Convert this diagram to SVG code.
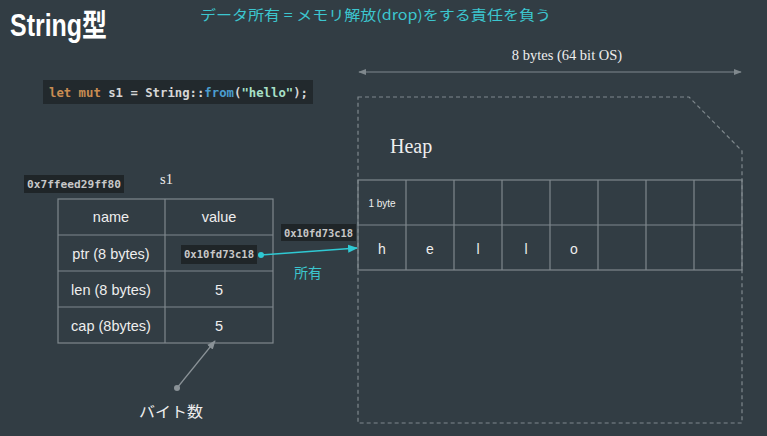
<svg xmlns="http://www.w3.org/2000/svg" width="767" height="436" viewBox="0 0 767 436">
<style>
.bg{fill:#323d44}
.cell{fill:none;stroke:#7f888d;stroke-width:1.2}
.sans{font-family:"Liberation Sans","Noto Sans CJK JP",sans-serif;fill:#eeeeee}
.serif{font-family:"Liberation Serif","Noto Sans CJK JP",serif;fill:#eeeeee}
.mono{font-family:"DejaVu Sans Mono","Liberation Mono",monospace}
.addr{fill:#1f2528}
.addrt{fill:#c8c8c8;font-family:"DejaVu Sans Mono","Liberation Mono",monospace;font-weight:bold}
.cyan{fill:#3cc6cf;font-family:"Noto Sans CJK JP",sans-serif}
</style>
<defs>
<marker id="ag" viewBox="0 0 10 10" refX="9" refY="5" markerWidth="8" markerHeight="8" orient="auto-start-reverse" markerUnits="userSpaceOnUse"><path d="M0,1 L10,5 L0,9 z" fill="#7f888d"/></marker>
<marker id="ac" viewBox="0 0 10 10" refX="9" refY="5" markerWidth="10" markerHeight="10" orient="auto" markerUnits="userSpaceOnUse"><path d="M0,1 L10,5 L0,9 z" fill="#2fc9d3"/></marker>
<marker id="ag2" viewBox="0 0 10 10" refX="9" refY="5" markerWidth="9" markerHeight="9" orient="auto" markerUnits="userSpaceOnUse"><path d="M0,1 L10,5 L0,9 z" fill="#8a9297"/></marker>
</defs>
<rect class="bg" x="0" y="0" width="767" height="436"/>

<g id="title">
<text x="10" y="36" font-family="'Liberation Sans','Noto Sans CJK JP',sans-serif" font-size="31" font-weight="bold" fill="#ffffff" textLength="97" lengthAdjust="spacingAndGlyphs">String型</text>
</g>
<g id="subtitle">
<text class="cyan" x="200" y="20" font-size="14" textLength="351" lengthAdjust="spacingAndGlyphs">データ所有 = メモリ解放(drop)をする責任を負う</text>
</g>

<g id="code">
<rect x="43" y="80" width="270" height="24" fill="#22292d"/>
<text class="mono" x="49" y="97" font-size="12.2" font-weight="bold" textLength="259" lengthAdjust="spacingAndGlyphs"><tspan fill="#c98d52">let mut</tspan><tspan fill="#d6d6d6"> s1 = String::</tspan><tspan fill="#4b9dcf">from</tspan><tspan fill="#d6d6d6">(</tspan><tspan fill="#a8e0c8">"hello"</tspan><tspan fill="#d6d6d6">);</tspan></text>
</g>

<g id="width-label">
<text class="serif" x="567" y="60" font-size="14.5" text-anchor="middle">8 bytes (64 bit OS)</text>
</g>

<g id="heap">
<path d="M358,97 L689,97 L742,151 L742,423 L358,423 Z" fill="none" stroke="#7f888d" stroke-width="1.2" stroke-dasharray="4,3"/>
<text class="serif" x="390" y="153" font-size="20">Heap</text>
<rect class="cell" x="358" y="180" width="384" height="90"/>
<line class="cell" x1="358" y1="225" x2="742" y2="225"/>
<line class="cell" x1="406" y1="180" x2="406" y2="270"/>
<line class="cell" x1="454" y1="180" x2="454" y2="270"/>
<line class="cell" x1="502" y1="180" x2="502" y2="270"/>
<line class="cell" x1="550" y1="180" x2="550" y2="270"/>
<line class="cell" x1="598" y1="180" x2="598" y2="270"/>
<line class="cell" x1="646" y1="180" x2="646" y2="270"/>
<line class="cell" x1="694" y1="180" x2="694" y2="270"/>
<text class="sans" x="382" y="207" font-size="10" text-anchor="middle">1 byte</text>
<text class="sans" x="382" y="254" font-size="14" text-anchor="middle">h</text>
<text class="sans" x="430" y="254" font-size="14" text-anchor="middle">e</text>
<text class="sans" x="478" y="254" font-size="14" text-anchor="middle">l</text>
<text class="sans" x="526" y="254" font-size="14" text-anchor="middle">l</text>
<text class="sans" x="574" y="254" font-size="14" text-anchor="middle">o</text>
</g>

<g id="s1">
<rect class="addr" x="24" y="175" width="100" height="18"/>
<text class="addrt" x="27" y="188" font-size="11.2" textLength="94" lengthAdjust="spacingAndGlyphs">0x7ffeed29ff80</text>
<text class="serif" x="160" y="184" font-size="14.5">s1</text>
<rect class="cell" x="58" y="199" width="215" height="144"/>
<line class="cell" x1="58" y1="235" x2="273" y2="235"/>
<line class="cell" x1="58" y1="271" x2="273" y2="271"/>
<line class="cell" x1="58" y1="307" x2="273" y2="307"/>
<line class="cell" x1="165" y1="199" x2="165" y2="343"/>
<text class="sans" x="111" y="222" font-size="14.5" text-anchor="middle">name</text>
<text class="sans" x="219" y="222" font-size="14.5" text-anchor="middle">value</text>
<text class="sans" x="111" y="259" font-size="14.5" text-anchor="middle">ptr (8 bytes)</text>
<text class="sans" x="111" y="295" font-size="14.5" text-anchor="middle">len (8 bytes)</text>
<text class="sans" x="111" y="331" font-size="14.5" text-anchor="middle">cap (8bytes)</text>
<rect class="addr" x="181" y="245" width="76" height="19"/>
<text class="addrt" x="184" y="258" font-size="10.5" textLength="70" lengthAdjust="spacingAndGlyphs">0x10fd73c18</text>
<text class="sans" x="219" y="295" font-size="14.5" text-anchor="middle">5</text>
<text class="sans" x="219" y="331" font-size="14.5" text-anchor="middle">5</text>
</g>

<g id="labels">
<rect class="addr" x="281" y="224" width="75" height="17"/>
<text class="addrt" x="284" y="236.5" font-size="10.5" textLength="69" lengthAdjust="spacingAndGlyphs">0x10fd73c18</text>
<text class="cyan" x="294" y="278" font-size="14">所有</text>
<text class="sans" x="139" y="417" font-size="15" fill="#dddddd" textLength="64" lengthAdjust="spacingAndGlyphs">バイト数</text>
</g>

<g id="connectors">
<line x1="359" y1="72" x2="741" y2="72" stroke="#7f888d" stroke-width="1.2" marker-start="url(#ag)" marker-end="url(#ag)"/>
<circle cx="261" cy="255" r="3" fill="#2fc9d3"/>
<line x1="261" y1="255" x2="357" y2="248" stroke="#2fc9d3" stroke-width="1.3" marker-end="url(#ac)"/>
<circle cx="177" cy="388" r="3" fill="#8a9297"/>
<line x1="177" y1="388" x2="215" y2="341" stroke="#8a9297" stroke-width="1.2" marker-end="url(#ag2)"/>
</g>
</svg>
